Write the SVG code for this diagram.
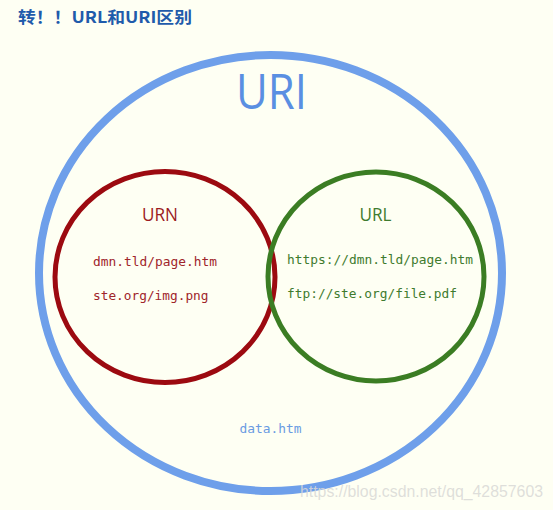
<svg xmlns="http://www.w3.org/2000/svg" width="553" height="510" viewBox="0 0 553 510">
  <style>
    .mono { font-family: "DejaVu Sans Mono", "Liberation Mono", monospace; font-size: 12.5px; }
    .lbl { font-family: "Open Sans", "Noto Sans", sans-serif; }
    .ring { fill: none; }
  </style>
  <rect x="0" y="0" width="553" height="510" fill="#fefff3"/>
  <text id="title" x="18" y="23" font-family="'Noto Sans CJK SC', 'Noto Sans', sans-serif" font-weight="bold" font-size="16" fill="#1f5bab" textLength="174" lengthAdjust="spacingAndGlyphs">转！！URL和URI区别</text>

  <g id="uri">
    <ellipse class="ring" cx="270.5" cy="273" rx="231.5" ry="218" stroke="#6e9fea" stroke-width="8"/>
    <text class="lbl" x="236" y="108.5" font-size="49" fill="#5a8fe2" textLength="71" lengthAdjust="spacingAndGlyphs">URI</text>
    <text class="mono" x="239.5" y="432.5" fill="#6a9be2" textLength="62" lengthAdjust="spacingAndGlyphs">data.htm</text>
  </g>

  <g id="urn">
    <ellipse class="ring" cx="165" cy="277" rx="110" ry="105.5" stroke="#9c0a10" stroke-width="5"/>
    <text class="lbl" x="142" y="220.5" font-size="19" fill="#9c1b22" textLength="36" lengthAdjust="spacingAndGlyphs">URN</text>
    <text class="mono" x="93" y="266" fill="#a0252b" textLength="124" lengthAdjust="spacingAndGlyphs">dmn.tld/page.htm</text>
    <text class="mono" x="93" y="300" fill="#a0252b" textLength="115.5" lengthAdjust="spacingAndGlyphs">ste.org/img.png</text>
  </g>

  <g id="url">
    <ellipse class="ring" cx="376" cy="276.5" rx="108" ry="104.5" stroke="#3b7d23" stroke-width="5"/>
    <text class="lbl" x="359.5" y="220.5" font-size="19" fill="#3f7b2e" textLength="32" lengthAdjust="spacingAndGlyphs">URL</text>
    <text class="mono" x="287" y="264" fill="#3f7b2e" textLength="186" lengthAdjust="spacingAndGlyphs">https://dmn.tld/page.htm</text>
    <text class="mono" x="287" y="298" fill="#3f7b2e" textLength="170" lengthAdjust="spacingAndGlyphs">ftp://ste.org/file.pdf</text>
  </g>

  <g id="connectors"/>

  <text id="watermark" x="300" y="497" font-family="'Liberation Sans', Arial, sans-serif" font-size="16" fill="#d9d9d6" fill-opacity="0.85" textLength="243" lengthAdjust="spacingAndGlyphs">https://blog.csdn.net/qq_42857603</text>
</svg>
